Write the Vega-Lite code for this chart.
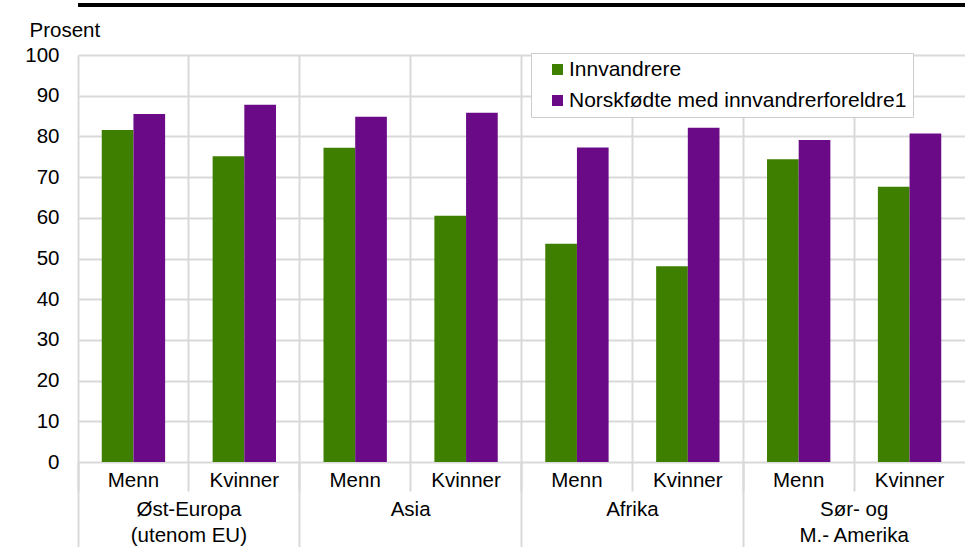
{
  "$schema": "https://vega.github.io/schema/vega-lite/v6.json",
  "width": 887,
  "height": 407,
  "autosize": {"type": "none"},
  "padding": {"left": 78, "top": 55, "right": 0, "bottom": 85},
  "config": {
    "view": {"stroke": null},
    "font": "Liberation Sans",
    "axis": {"labelFont": "Liberation Sans", "titleFont": "Liberation Sans", "labelColor": "black", "titleColor": "black"},
    "legend": {"labelFont": "Liberation Sans"}
  },
  "data": {
    "values": [
      {"key": "A-Menn", "region": "Øst-Europa\n(utenom EU)", "kjonn": "Menn", "serie": "Innvandrere", "verdi": 81.6},
      {"key": "A-Menn", "region": "Øst-Europa\n(utenom EU)", "kjonn": "Menn", "serie": "Norskfødte med innvandrerforeldre1", "verdi": 85.5},
      {"key": "A-Kvinner", "region": "Øst-Europa\n(utenom EU)", "kjonn": "Kvinner", "serie": "Innvandrere", "verdi": 75.1},
      {"key": "A-Kvinner", "region": "Øst-Europa\n(utenom EU)", "kjonn": "Kvinner", "serie": "Norskfødte med innvandrerforeldre1", "verdi": 87.8},
      {"key": "B-Menn", "region": "Asia", "kjonn": "Menn", "serie": "Innvandrere", "verdi": 77.2},
      {"key": "B-Menn", "region": "Asia", "kjonn": "Menn", "serie": "Norskfødte med innvandrerforeldre1", "verdi": 84.8},
      {"key": "B-Kvinner", "region": "Asia", "kjonn": "Kvinner", "serie": "Innvandrere", "verdi": 60.5},
      {"key": "B-Kvinner", "region": "Asia", "kjonn": "Kvinner", "serie": "Norskfødte med innvandrerforeldre1", "verdi": 85.8},
      {"key": "C-Menn", "region": "Afrika", "kjonn": "Menn", "serie": "Innvandrere", "verdi": 53.6},
      {"key": "C-Menn", "region": "Afrika", "kjonn": "Menn", "serie": "Norskfødte med innvandrerforeldre1", "verdi": 77.3},
      {"key": "C-Kvinner", "region": "Afrika", "kjonn": "Kvinner", "serie": "Innvandrere", "verdi": 48.1},
      {"key": "C-Kvinner", "region": "Afrika", "kjonn": "Kvinner", "serie": "Norskfødte med innvandrerforeldre1", "verdi": 82.1},
      {"key": "D-Menn", "region": "Sør- og\nM.- Amerika", "kjonn": "Menn", "serie": "Innvandrere", "verdi": 74.4},
      {"key": "D-Menn", "region": "Sør- og\nM.- Amerika", "kjonn": "Menn", "serie": "Norskfødte med innvandrerforeldre1", "verdi": 79.1},
      {"key": "D-Kvinner", "region": "Sør- og\nM.- Amerika", "kjonn": "Kvinner", "serie": "Innvandrere", "verdi": 67.6},
      {"key": "D-Kvinner", "region": "Sør- og\nM.- Amerika", "kjonn": "Kvinner", "serie": "Norskfødte med innvandrerforeldre1", "verdi": 80.7}
    ]
  },
  "resolve": {"axis": {"x": "independent"}},
  "layer": [
    {
      "mark": {"type": "bar"},
      "encoding": {
        "x": {
          "field": "key", "type": "nominal",
          "sort": ["A-Menn", "A-Kvinner", "B-Menn", "B-Kvinner", "C-Menn", "C-Kvinner", "D-Menn", "D-Kvinner"],
          "scale": {"paddingInner": 0, "paddingOuter": 0},
          "axis": {
            "orient": "bottom",
            "title": null,
            "bandPosition": 0,
            "grid": true,
            "gridColor": "#d9d9d9",
            "gridWidth": 2,
            "domain": false,
            "ticks": true,
            "tickSize": 29,
            "tickColor": "#d9d9d9",
            "tickWidth": 2,
            "labelAngle": 0,
            "labelAlign": "center",
            "labelBaseline": "top",
            "labelOffset": 0,
            "labelPadding": -21,
            "labelFontSize": 20.5,
            "labelExpr": "indexof(datum.value, 'Kvinner') >= 0 ? 'Kvinner' : 'Menn'"
          }
        },
        "xOffset": {
          "field": "serie", "type": "nominal",
          "sort": ["Innvandrere", "Norskfødte med innvandrerforeldre1"],
          "scale": {"paddingInner": 0, "paddingOuter": 0.75}
        },
        "y": {
          "field": "verdi", "type": "quantitative",
          "scale": {"domain": [0, 100], "nice": false},
          "axis": {
            "values": [0, 10, 20, 30, 40, 50, 60, 70, 80, 90, 100],
            "domain": false,
            "ticks": false,
            "grid": true,
            "gridColor": "#d9d9d9",
            "gridWidth": 2,
            "labelFontSize": 20.5,
            "labelPadding": 19,
            "title": "Prosent",
            "titleAngle": 0,
            "titleAlign": "left",
            "titleBaseline": "middle",
            "titleX": -49,
            "titleY": -25,
            "titleFontSize": 20.5,
            "titleFontWeight": "normal"
          }
        },
        "color": {
          "field": "serie", "type": "nominal",
          "scale": {"domain": ["Innvandrere", "Norskfødte med innvandrerforeldre1"], "range": ["#3f7f00", "#6a0a87"]},
          "legend": {
            "title": null,
            "orient": "none",
            "legendX": 453,
            "legendY": -2,
            "fillColor": "white",
            "strokeColor": "#cccccc",
            "padding": 6,
            "symbolOffset": 10,
            "symbolType": "square",
            "symbolSize": 121,
            "symbolStrokeWidth": 0,
            "labelFontSize": 21,
            "labelColor": "black",
            "labelOffset": 1,
            "labelLimit": 600,
            "labelExpr": "datum.label + '\u00a0\u00a0\u00a0'",
            "rowPadding": 9
          }
        }
      }
    },
    {
      "transform": [{"filter": "datum.kjonn == 'Kvinner' && datum.serie == 'Innvandrere'"}],
      "mark": {"type": "text", "baseline": "top", "align": "center", "fontSize": 20.5, "lineHeight": 26, "lineBreak": "\n", "color": "black", "clip": false},
      "encoding": {
        "x": {
          "field": "key", "type": "nominal",
          "sort": ["A-Menn", "A-Kvinner", "B-Menn", "B-Kvinner", "C-Menn", "C-Kvinner", "D-Menn", "D-Kvinner"],
          "bandPosition": 0,
          "axis": {
            "orient": "bottom",
            "title": null,
            "values": ["A-Menn", "B-Menn", "C-Menn", "D-Menn"],
            "bandPosition": 0,
            "grid": false,
            "domain": false,
            "ticks": true,
            "tickSize": 85,
            "tickColor": "#d9d9d9",
            "tickWidth": 2,
            "labels": false
          }
        },
        "y": {"datum": -9.3},
        "text": {"field": "region"}
      }
    },
    {
      "mark": {"type": "rule", "color": "black", "strokeWidth": 3, "clip": false},
      "encoding": {"y": {"datum": 112.2}}
    }
  ]
}
